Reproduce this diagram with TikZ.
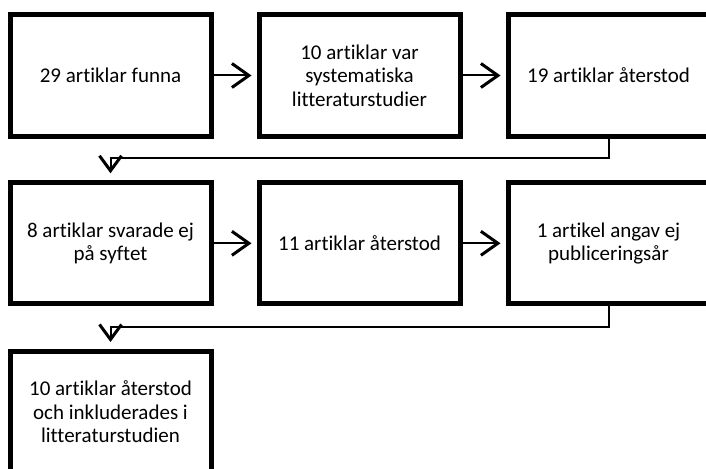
\documentclass[tikz,border=0pt]{standalone}
\usepackage{fontspec}
\setmainfont{Carlito}[Ligatures={NoCommon}]
\usetikzlibrary{arrows.meta,calc}
\begin{document}
\begin{tikzpicture}[x=1pt,y=-1pt,
  box/.style={draw=black,line width=5pt,rectangle,minimum width=201pt,minimum height=121pt,
    align=center,inner sep=0pt,font=\fontsize{21}{23.5}\selectfont},
  arr/.style={line width=2pt,-{Straight Barb[length=17pt,width=24pt,line width=3pt]},shorten >=5pt},
  conn/.style={line width=2pt,-{Straight Barb[length=15pt,width=22pt,line width=3pt]},shorten >=7pt}]
\useasboundingbox (0,0) rectangle (706,468);
\clip (0,0) rectangle (706,468);
\node[box] (b1) at (110.5,75.5) {29 artiklar funna};
\node[box] (b2) at (359.5,75.5) {10 artiklar var\\systematiska\\litteraturstudier};
\node[box] (b3) at (608.5,75.5) {19 artiklar återstod};
\node[box] (b4) at (110.5,243.3) {8 artiklar svarade ej\\på syftet};
\node[box] (b5) at (359.5,243.3) {11 artiklar återstod};
\node[box] (b6) at (608.5,243.3) {1 artikel angav ej\\publiceringsår};
\node[box] (b7) at (110.5,412) {10 artiklar återstod\\och inkluderades i\\litteraturstudien};
\draw[arr] (b1.east) -- (b2.west);
\draw[arr] (b2.east) -- (b3.west);
\draw[arr] (b4.east) -- (b5.west);
\draw[arr] (b5.east) -- (b6.west);
\draw[conn] (b3.south) |- ($(b4.north)+(0,-22)$) -- (b4.north);
\draw[conn] (b6.south) |- ($(b7.north)+(0,-22)$) -- (b7.north);
\end{tikzpicture}
\end{document}
